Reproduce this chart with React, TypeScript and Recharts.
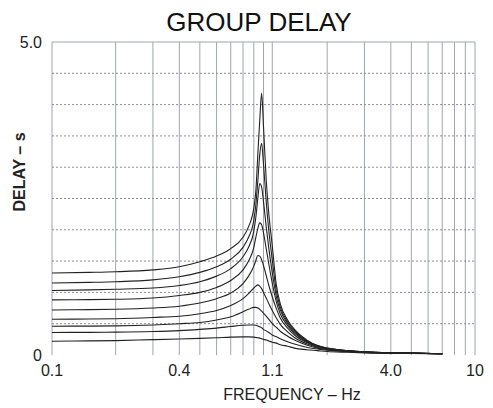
import React from 'react';
import { LineChart, Line, XAxis, YAxis, CartesianGrid, ReferenceLine } from 'recharts';

// frequency (Hz) sample points shared by every curve
const FREQ = [0.1, 0.15, 0.2, 0.3, 0.4, 0.5, 0.6, 0.7, 0.8, 0.85, 0.9, 0.92, 0.94, 0.96, 0.98, 1.0, 1.03, 1.06, 1.1, 1.15, 1.2, 1.3, 1.4, 1.6, 1.8, 2.0, 2.5, 3.0, 4.0, 5.0, 7.0];

// group delay (s), top curve first
const D1 = [1.31, 1.32, 1.33, 1.36, 1.41, 1.49, 1.58, 1.7, 1.88, 2.05, 2.35, 2.62, 3.2, 3.75, 4.18, 3.65, 2.8, 2.25, 1.75, 1.12, 0.82, 0.56, 0.41, 0.24, 0.15, 0.11, 0.07, 0.05, 0.035, 0.03, 0.02];
const D2 = [1.15, 1.16, 1.17, 1.2, 1.25, 1.32, 1.41, 1.53, 1.72, 1.88, 2.15, 2.4, 2.78, 3.2, 3.38, 3.05, 2.45, 1.98, 1.52, 1.02, 0.77, 0.53, 0.39, 0.23, 0.15, 0.11, 0.07, 0.05, 0.035, 0.03, 0.02];
const D3 = [1.03, 1.04, 1.05, 1.07, 1.11, 1.17, 1.26, 1.38, 1.57, 1.72, 1.98, 2.2, 2.5, 2.74, 2.68, 2.45, 2.05, 1.7, 1.32, 0.93, 0.72, 0.5, 0.37, 0.22, 0.145, 0.105, 0.07, 0.05, 0.035, 0.03, 0.02];
const D4 = [0.88, 0.885, 0.89, 0.91, 0.95, 1.0, 1.08, 1.19, 1.36, 1.5, 1.72, 1.88, 2.02, 2.11, 2.08, 1.95, 1.7, 1.45, 1.15, 0.85, 0.66, 0.47, 0.35, 0.21, 0.14, 0.1, 0.065, 0.048, 0.035, 0.03, 0.02];
const D5 = [0.72, 0.725, 0.73, 0.75, 0.78, 0.83, 0.9, 0.99, 1.14, 1.26, 1.42, 1.51, 1.59, 1.58, 1.52, 1.43, 1.27, 1.11, 0.93, 0.74, 0.59, 0.43, 0.32, 0.2, 0.135, 0.1, 0.065, 0.048, 0.035, 0.03, 0.02];
const D6 = [0.57, 0.575, 0.58, 0.6, 0.62, 0.66, 0.71, 0.79, 0.9, 0.98, 1.07, 1.1, 1.12, 1.1, 1.06, 1.0, 0.91, 0.82, 0.71, 0.59, 0.49, 0.37, 0.28, 0.18, 0.125, 0.095, 0.062, 0.046, 0.034, 0.028, 0.02];
const D7 = [0.46, 0.462, 0.465, 0.48, 0.5, 0.52, 0.56, 0.61, 0.69, 0.73, 0.76, 0.76, 0.75, 0.73, 0.7, 0.67, 0.62, 0.57, 0.5, 0.44, 0.38, 0.3, 0.24, 0.16, 0.11, 0.085, 0.058, 0.044, 0.033, 0.027, 0.02];
const D8 = [0.36, 0.362, 0.365, 0.375, 0.39, 0.41, 0.43, 0.455, 0.475, 0.48, 0.48, 0.475, 0.465, 0.45, 0.435, 0.41, 0.385, 0.36, 0.32, 0.29, 0.26, 0.21, 0.175, 0.125, 0.095, 0.075, 0.052, 0.04, 0.03, 0.025, 0.02];
const D9 = [0.22, 0.225, 0.23, 0.245, 0.255, 0.265, 0.275, 0.285, 0.29, 0.29, 0.285, 0.28, 0.275, 0.27, 0.26, 0.25, 0.24, 0.225, 0.205, 0.19, 0.165, 0.14, 0.11, 0.085, 0.07, 0.055, 0.043, 0.034, 0.028, 0.024, 0.02];

const SERIES = [D1, D2, D3, D4, D5, D6, D7, D8, D9];

// grid / ticks
const X_TICKS = [0.1, 0.2, 0.3, 0.4, 0.5, 0.6, 0.7, 0.8, 0.9, 1, 1.1, 2, 3, 4, 5, 6, 7, 8, 9, 10];
const X_LABELS: Record<string, string> = { '0.1': '0.1', '0.4': '0.4', '1.1': '1.1', '4': '4.0', '10': '10' };
const Y_TICKS = [0, 0.5, 1, 1.5, 2, 2.5, 3, 3.5, 4, 4.5, 5];
const Y_DOTTED = [0.5, 1, 1.5, 2, 2.5, 3, 3.5, 4, 4.5];

const data = FREQ.map((f, i) => {
    const row: any = { f };
    SERIES.forEach((s, k) => { row['d' + (k + 1)] = s[i]; });
    return row;
});

const FONT = '"Liberation Sans", Arial, Helvetica, sans-serif';
const GRID = '#9ea6ae';

export default function App() {
    return (
        <div style={{ position: 'absolute', left: 0, top: 0, background: '#fff' }}>
            <LineChart
                width={493}
                height={408}
                data={data}
                margin={{ top: 42, right: 18, bottom: 23, left: 0 }}>
                <CartesianGrid horizontal={false} stroke={GRID} strokeWidth={1} />
                {Y_DOTTED.map(v => (
                    <ReferenceLine key={v} y={v} stroke="#8c8c8c" strokeDasharray="2 2" />
                ))}
                <ReferenceLine y={5} stroke={GRID} />
                <XAxis
                    dataKey="f"
                    type="number"
                    scale="log"
                    domain={[0.1, 10]}
                    ticks={X_TICKS}
                    interval={0}
                    allowDataOverflow
                    axisLine={false}
                    tickLine={false}
                    tickMargin={4}
                    height={30}
                    tickFormatter={(v: number) => X_LABELS[String(v)] ?? ''}
                    tick={{ fontSize: 16, fill: '#222', fontFamily: FONT }}
                />
                <YAxis
                    type="number"
                    domain={[0, 5]}
                    ticks={Y_TICKS}
                    interval={0}
                    width={52}
                    axisLine={false}
                    tickLine={false}
                    tickMargin={4}
                    tickFormatter={(v: number) => (v === 5 ? '5.0' : v === 0 ? '0' : '')}
                    tick={{ fontSize: 16, fill: '#222', fontFamily: FONT }}
                />
                {SERIES.map((_, k) => (
                    <Line
                        key={k}
                        type="monotone"
                        dataKey={'d' + (k + 1)}
                        stroke="#222"
                        strokeWidth={1.1}
                        dot={false}
                        activeDot={false}
                        isAnimationActive={false}
                    />
                ))}
                <text x={259} y={31} textAnchor="middle" fontSize={26} fontFamily={FONT} fill="#111">GROUP DELAY</text>
                <text x={292} y={400} textAnchor="middle" fontSize={16} fontFamily={FONT} fill="#222">FREQUENCY – Hz</text>
                <text transform="translate(25,172) rotate(-90)" textAnchor="middle" fontSize={16} fontWeight="bold" fontFamily={FONT} fill="#222">DELAY – s</text>
            </LineChart>
        </div>
    );
}
